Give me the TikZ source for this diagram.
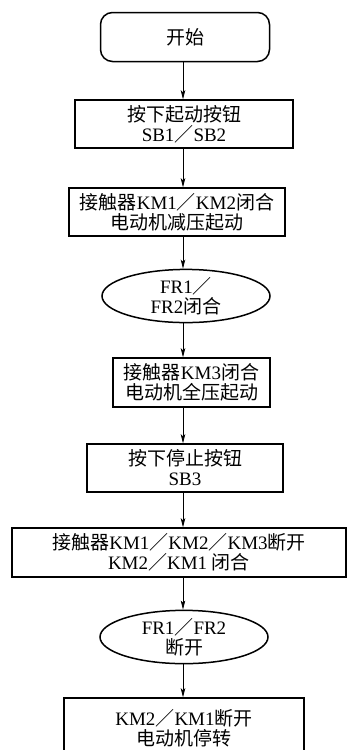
\documentclass[tikz,border=0pt]{standalone}
\usepackage{fontspec}
\setmainfont{Liberation Serif}
\newfontfamily\cjk{Noto Sans CJK SC}
\usetikzlibrary{shapes.geometric,arrows.meta}
\newcommand{\zh}[1]{{\cjk #1}}
\tikzset{
  box/.style={draw,line width=1.5pt,inner sep=0pt,align=center,
    font=\fontsize{19}{20}\selectfont},
  startbox/.style={box,rounded corners=12pt},
  oval/.style={box,ellipse},
  flow/.style={-{Stealth[length=9pt,width=4.5pt,inset=2pt]},line width=0.8pt}
}
\begin{document}
\begin{tikzpicture}[x=1pt,y=-1pt]
      \useasboundingbox (0,0) rectangle (347,750);
      \draw
        (185,37) node[startbox,minimum width=169,minimum height=49] (start){\zh{开始}}
        (184,124) node[box,minimum width=218,minimum height=48] (press){\zh{按下起动按钮}\\SB1\zh{／}SB2}
        (177,212) node[box,minimum width=216,minimum height=48] (lowstart){\zh{接触器}KM1\zh{／}KM2\zh{闭合}\\\zh{电动机减压起动}}
        (186,296) node[oval,minimum width=168,minimum height=50] (frclose){FR1\zh{／}\\FR2\zh{闭合}}
        (191.5,382.5) node[box,minimum width=157,minimum height=49] (fullstart){\zh{接触器}KM3\zh{闭合}\\\zh{电动机全压起动}}
        (185,468) node[box,minimum width=196,minimum height=48] (stop){\zh{按下停止按钮}\\SB3}
        (179,552.5) node[box,minimum width=334,minimum height=49] (switch){\zh{接触器}KM1\zh{／}KM2\zh{／}KM3\zh{断开}\\KM2\zh{／}KM1 \zh{闭合}}
        (184,637) node[oval,minimum width=168,minimum height=50] (fropen){FR1\zh{／}FR2\\\zh{断开}}
        (184,728) node[box,minimum width=240,minimum height=60] (halt){KM2\zh{／}KM1\zh{断开}\\\zh{电动机停转}};
      \coordinate (line) at (183,0);
      \begin{scope}[flow]
        \draw (start.south -| line) to (press.north -| line);
        \draw (press.south -| line) to (lowstart.north -| line);
        \draw (lowstart.south -| line) to (frclose.north -| line);
        \draw (frclose.south -| line) to (fullstart.north -| line);
        \draw (fullstart.south -| line) to (stop.north -| line);
        \draw (stop.south -| line) to (switch.north -| line);
        \draw (switch.south -| line) to (fropen.north -| line);
        \draw (fropen.south -| line) to (halt.north -| line);
      \end{scope}
    \end{tikzpicture}
\end{document}
